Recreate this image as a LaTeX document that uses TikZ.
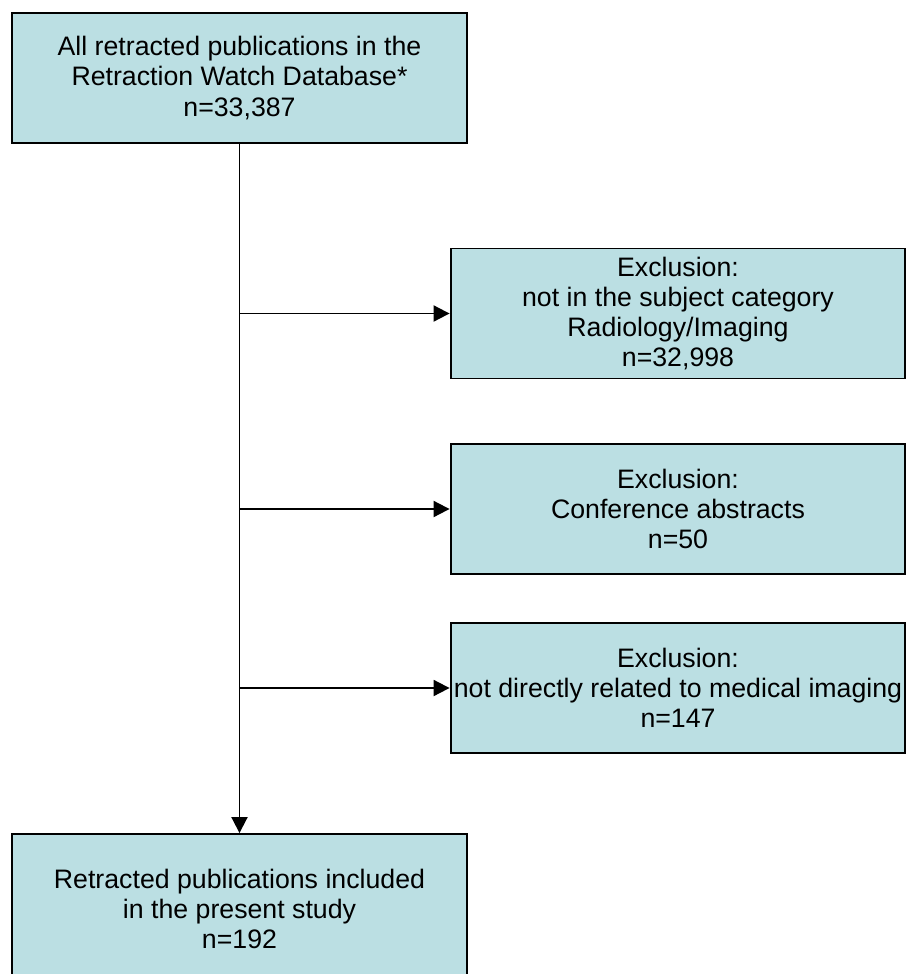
\documentclass[tikz,border=0pt]{standalone}
\usepackage{fontspec}
\setmainfont{Liberation Sans}
\usetikzlibrary{arrows.meta}
\definecolor{FlowBlue}{HTML}{BBDFE3}

\begin{document}
\begin{tikzpicture}[x=0.02cm, y=-0.02cm, line width=1.1pt,
    every node/.style={font=\fontsize{15.2pt}{17.2pt}\selectfont},
    flowbox/.style={draw, fill=FlowBlue, minimum width=9.1cm, minimum height=2.6cm, align=center, inner sep=0pt},
    flowarrow/.style={-{Triangle[length=0.32cm, width=0.32cm]}}]
    \clip (0,0) rectangle (906,974);
    % Start (top left)
    \node[flowbox] (all) at (239.5, 78) {All retracted publications in the\\Retraction Watch Database*\\n=33,387};

    % Exclusions (right column)
    \node[flowbox] (excat) at (678, 313.5) {Exclusion:\\not in the subject category\\Radiology/Imaging\\n=32,998};
    \node[flowbox] (exconf) at (678, 509) {Exclusion:\\Conference abstracts\\n=50};
    \node[flowbox] (exmed) at (678, 688) {Exclusion:\\not directly related to medical imaging\\n=147};

    % Result (bottom left, runs off the page)
    \node[flowbox, minimum height=3cm] (incl) at (239.5, 909) {Retracted publications included\\in the present study\\n=192};

    % Arrows
    \draw[flowarrow] (all.south) -- (incl.north);
    \draw[flowarrow] (all.south |- excat.west) -- (excat.west);
    \draw[flowarrow] (all.south |- exconf.west) -- (exconf.west);
    \draw[flowarrow] (all.south |- exmed.west) -- (exmed.west);
\end{tikzpicture}
\end{document}
